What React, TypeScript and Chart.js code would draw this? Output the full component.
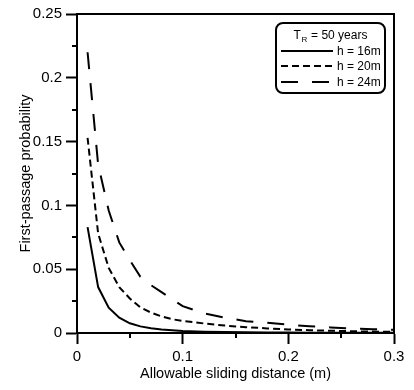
import React, { useEffect, useRef } from 'react';
import { Chart, registerables } from 'chart.js';

Chart.register(...registerables);

// Allowable sliding distance (m)
const distance = [0.01, 0.02, 0.03, 0.04, 0.05, 0.06, 0.07, 0.08, 0.09, 0.10, 0.12, 0.14, 0.16, 0.18, 0.20, 0.22, 0.24, 0.26, 0.28, 0.30];
// First-passage probability, h = 16m
const probH16 = [0.083, 0.036, 0.0198, 0.012, 0.0076, 0.0052, 0.0038, 0.0028, 0.0022, 0.0016, 0.001, 0.0007, 0.0005, 0.0004, 0.0003, 0.0002, 0.0002, 0.0001, 0.0001, 0.0001];
// First-passage probability, h = 20m
const probH20 = [0.153, 0.078, 0.051, 0.036, 0.027, 0.020, 0.016, 0.013, 0.0108, 0.0094, 0.0075, 0.0058, 0.0046, 0.0036, 0.0028, 0.0022, 0.0018, 0.0014, 0.0011, 0.0009];
// First-passage probability, h = 24m
const probH24 = [0.22, 0.132, 0.096, 0.071, 0.057, 0.044, 0.0375, 0.032, 0.0265, 0.021, 0.0155, 0.012, 0.0093, 0.008, 0.0065, 0.0053, 0.0044, 0.0035, 0.003, 0.0025];

const seriesLabels = ['h = 16m', 'h = 20m', 'h = 24m'];
const legendTitleMain = 'T';
const legendTitleSub = 'R';
const legendTitleRest = ' = 50 years';
const xTitle = 'Allowable sliding distance (m)';
const yTitle = 'First-passage probability';

const FONT = '"Liberation Sans", Arial, sans-serif';

const isMultiple = (v: number, step: number) => Math.abs(v / step - Math.round(v / step)) < 1e-6;
const fmt = (v: number) => String(Math.round(v * 1000) / 1000);

const framePlugin = {
  id: 'frameAndMinor',
  afterDraw(chart: any) {
    const { ctx, chartArea } = chart;
    const { left, top, right, bottom } = chartArea;
    ctx.save();
    ctx.strokeStyle = '#000';
    ctx.lineWidth = 2;
    ctx.beginPath();
    ctx.moveTo(left - 1, top);
    ctx.lineTo(right, top);
    ctx.lineTo(right, bottom + 1);
    ctx.stroke();
    // minor ticks
    const xs = chart.scales.x;
    const ys = chart.scales.y;
    ctx.lineWidth = 2;
    xs.ticks.forEach((t: any) => {
      if (!isMultiple(t.value, 0.1)) {
        const px = Math.round(xs.getPixelForValue(t.value));
        ctx.beginPath();
        ctx.moveTo(px, bottom);
        ctx.lineTo(px, bottom + 5);
        ctx.stroke();
      }
    });
    ys.ticks.forEach((t: any) => {
      if (!isMultiple(t.value, 0.05)) {
        const py = Math.round(ys.getPixelForValue(t.value));
        ctx.beginPath();
        ctx.moveTo(left - 5, py);
        ctx.lineTo(left, py);
        ctx.stroke();
      }
    });
    ctx.restore();
  },
};

const legendPlugin = {
  id: 'customLegend',
  afterDraw(chart: any) {
    const { ctx, chartArea } = chart;
    const w = 109;
    const h = 70;
    const boxLeft = chartArea.right - 9 - w;
    const boxTop = chartArea.top + 9;
    ctx.save();
    ctx.fillStyle = '#fff';
    ctx.strokeStyle = '#000';
    ctx.lineWidth = 2;
    ctx.beginPath();
    (ctx as any).roundRect(boxLeft, boxTop, w, h, 7);
    ctx.fill();
    ctx.stroke();

    ctx.fillStyle = '#000';
    ctx.textBaseline = 'alphabetic';
    ctx.textAlign = 'left';
    ctx.font = `12px ${FONT}`;
    const wT = ctx.measureText(legendTitleMain).width;
    const wRest = ctx.measureText(legendTitleRest).width;
    ctx.font = `8px ${FONT}`;
    const wR = ctx.measureText(legendTitleSub).width + 1;
    const total = wT + wR + wRest;
    let x0 = boxLeft + w / 2 - total / 2;
    const base = boxTop + 16;
    ctx.font = `12px ${FONT}`;
    ctx.fillText(legendTitleMain, x0, base);
    ctx.font = `8px ${FONT}`;
    ctx.fillText(legendTitleSub, x0 + wT + 0.5, base + 3);
    ctx.font = `12px ${FONT}`;
    ctx.fillText(legendTitleRest, x0 + wT + wR, base);

    ctx.textBaseline = 'middle';
    chart.data.datasets.forEach((ds: any, i: number) => {
      const y = Math.round(boxTop + 28 + i * 15.25);
      ctx.lineWidth = 2;
      ctx.setLineDash(ds.borderDash || []);
      ctx.beginPath();
      ctx.moveTo(boxLeft + 5, y);
      ctx.lineTo(boxLeft + 57, y);
      ctx.stroke();
      ctx.setLineDash([]);
      ctx.fillText(ds.label, boxLeft + 61, y + 0.5);
    });
    ctx.restore();
  },
};

export default function App() {
  const canvasRef = useRef<HTMLCanvasElement | null>(null);

  useEffect(() => {
    document.body.style.margin = '0';
    const canvas = canvasRef.current;
    if (!canvas) return;
    const mk = (vals: number[]) => distance.map((d, i) => ({ x: d, y: vals[i] }));
    const chart = new Chart(canvas, {
      type: 'line',
      data: {
        datasets: [
          { label: seriesLabels[0], data: mk(probH16), borderColor: '#000', borderWidth: 2, pointRadius: 0, tension: 0, fill: false, borderDash: [] },
          { label: seriesLabels[1], data: mk(probH20), borderColor: '#000', borderWidth: 2, pointRadius: 0, tension: 0, fill: false, borderDash: [7, 4] },
          { label: seriesLabels[2], data: mk(probH24), borderColor: '#000', borderWidth: 2, pointRadius: 0, tension: 0, fill: false, borderDash: [17, 14] },
        ],
      },
      options: {
        responsive: false,
        animation: false,
        devicePixelRatio: 1,
        layout: { padding: { left: 0, right: 20, top: 14, bottom: 0 } },
        plugins: { legend: { display: false }, tooltip: { enabled: false }, title: { display: false } },
        scales: {
          x: {
            type: 'linear',
            min: 0,
            max: 0.3,
            afterFit: (s: any) => { s.height = 57; },
            ticks: {
              stepSize: 0.05,
              autoSkip: false,
              maxRotation: 0,
              padding: 4,
              color: '#000',
              font: { family: FONT, size: 15 },
              callback: (v: any) => (isMultiple(Number(v), 0.1) ? fmt(Number(v)) : ''),
            },
            grid: {
              drawOnChartArea: false,
              tickLength: 11,
              tickWidth: 2,
              tickColor: (c: any) => (c.tick && isMultiple(c.tick.value, 0.1) ? '#000' : 'rgba(0,0,0,0)'),
            },
            border: { color: '#000', width: 2 },
            title: { display: true, text: xTitle, color: '#000', font: { family: FONT, size: 14.5 }, padding: { top: 0, bottom: 7.5 } },
          },
          y: {
            type: 'linear',
            min: 0,
            max: 0.25,
            afterFit: (s: any) => { s.width = 77; },
            ticks: {
              stepSize: 0.025,
              autoSkip: false,
              padding: 4,
              color: '#000',
              font: { family: FONT, size: 15 },
              callback: (v: any) => (isMultiple(Number(v), 0.05) ? fmt(Number(v)) : ''),
            },
            grid: {
              drawOnChartArea: false,
              tickLength: 11,
              tickWidth: 2,
              tickColor: (c: any) => (c.tick && isMultiple(c.tick.value, 0.05) ? '#000' : 'rgba(0,0,0,0)'),
            },
            border: { color: '#000', width: 2 },
            title: { display: true, text: yTitle, color: '#000', font: { family: FONT, size: 14.5 }, padding: { top: 17, bottom: 0 } },
          },
        },
      } as any,
      plugins: [framePlugin, legendPlugin],
    });
    return () => chart.destroy();
  }, []);

  return (
    <div style={{ position: 'absolute', left: 0, top: 0, width: 414, height: 390 }}>
      <canvas ref={canvasRef} width={414} height={390} />
    </div>
  );
}
